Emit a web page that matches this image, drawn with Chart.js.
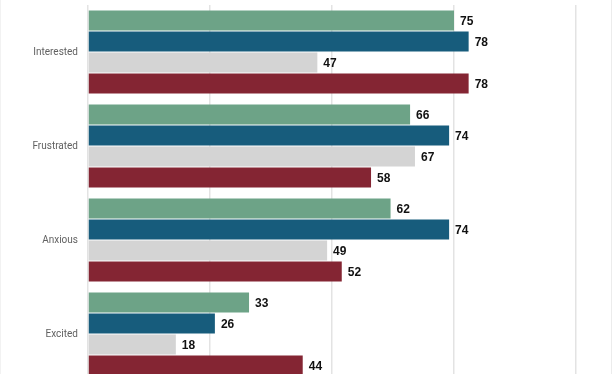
<!DOCTYPE html>
<html>
<head>
<meta charset="utf-8">
<script src="https://cdn.jsdelivr.net/npm/chart.js@4.4.0/dist/chart.umd.min.js"></script>
<style>
html,body{margin:0;padding:0;background:#fff;overflow:hidden;}
#wrap{position:relative;width:612px;height:384px;}
#edgeL{position:absolute;left:0;top:0;width:1px;height:384px;background:#f2f2f2;}
#edgeR{position:absolute;right:0;top:0;width:1px;height:384px;background:#ececec;}
</style>
</head>
<body>
<div id="wrap"><canvas id="c" width="612" height="384"></canvas><div id="edgeL"></div><div id="edgeR"></div></div>
<script>
const categories = ["Interested", "Frustrated", "Anxious", "Excited"];
const seriesA = [75, 66, 62, 33];
const seriesB = [78, 74, 74, 26];
const seriesC = [47, 67, 49, 18];
const seriesD = [78, 58, 52, 44];
const xTicks = [0, 25, 50, 75, 100];

const colors = ["#6da387", "#175c7c", "#d4d4d4", "#842533"];

const valueLabels = {
  id: 'valueLabels',
  afterDatasetsDraw(chart) {
    const ctx = chart.ctx;
    ctx.save();
    ctx.font = 'bold 12px "Liberation Sans", Arial, sans-serif';
    ctx.fillStyle = '#111';
    ctx.textAlign = 'left';
    ctx.textBaseline = 'middle';
    chart.data.datasets.forEach((ds, i) => {
      const meta = chart.getDatasetMeta(i);
      meta.data.forEach((bar, j) => {
        ctx.fillText(String(ds.data[j]), bar.x + 6, bar.y + 1);
      });
    });
    ctx.restore();
  }
};

new Chart(document.getElementById('c'), {
  type: 'bar',
  data: {
    labels: categories,
    datasets: [
      { label: 'A', data: seriesA, backgroundColor: colors[0] },
      { label: 'B', data: seriesB, backgroundColor: colors[1] },
      { label: 'C', data: seriesC, backgroundColor: colors[2] },
      { label: 'D', data: seriesD, backgroundColor: colors[3] }
    ]
  },
  options: {
    indexAxis: 'y',
    responsive: false,
    animation: false,
    devicePixelRatio: 1,
    categoryPercentage: 0.894,
    barPercentage: 0.952,
    layout: { padding: { top: 5, bottom: 3, left: 0, right: 36 } },
    plugins: { legend: { display: false }, tooltip: { enabled: false } },
    scales: {
      x: {
        min: 0, max: 100,
        afterBuildTicks(scale) { scale.ticks = xTicks.map(v => ({ value: v })); },
        afterFit(scale) { scale.height = 0; scale.paddingLeft = 0; scale.paddingRight = 0; },
        ticks: { display: false },
        grid: { color: '#e3e3e3', lineWidth: 1.5, drawTicks: false },
        border: { display: false }
      },
      y: {
        afterFit(scale) { scale.width = 88; scale.paddingTop = 0; scale.paddingBottom = 0; },
        ticks: { color: '#616161', font: { family: 'Roboto', size: 10 }, padding: 10 },
        grid: { display: false, drawTicks: false },
        border: { display: false }
      }
    }
  },
  plugins: [valueLabels]
});
</script>
</body>
</html>
